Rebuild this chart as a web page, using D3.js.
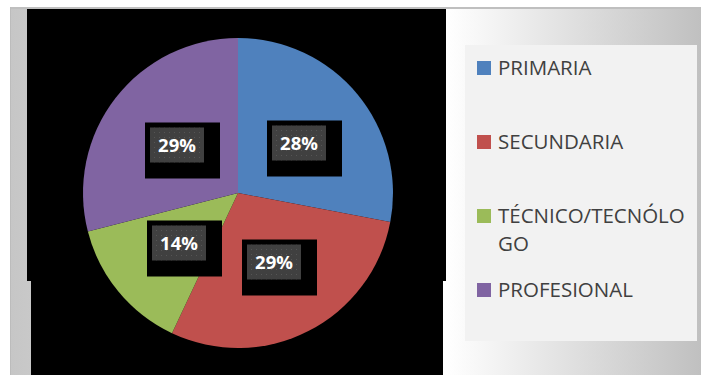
<!DOCTYPE html>
<html>
<head>
<meta charset="utf-8">
<script src="https://cdn.jsdelivr.net/npm/d3@7/dist/d3.min.js"></script>
<style>
  html, body { margin: 0; padding: 0; background: #ffffff; }
  svg { display: block; }
</style>
</head>
<body>
<script>
// Education level distribution
const categories = ["PRIMARIA", "SECUNDARIA", "TÉCNICO/TECNÓLOGO", "PROFESIONAL"];
const values = [28, 29, 14, 29];
const colors = ["#4f81bd", "#c0504d", "#9bbb59", "#8064a2"];

const W = 701, H = 375;
const svg = d3.select("body").append("svg").attr("width", W).attr("height", H);
const defs = svg.append("defs");

// chart area background: soft horizontal grey-white-grey gradient
const bg = defs.append("linearGradient").attr("id", "bgGrad")
  .attr("gradientUnits", "userSpaceOnUse")
  .attr("x1", 10).attr("x2", W).attr("y1", 0).attr("y2", 0);
bg.append("stop").attr("offset", 0).attr("stop-color", "#c6c6c6");
bg.append("stop").attr("offset", (446 - 10) / (W - 10)).attr("stop-color", "#ffffff");
bg.append("stop").attr("offset", 1).attr("stop-color", "#c0c0c0");

// dotted fill for the data label boxes
const pat = defs.append("pattern").attr("id", "dots")
  .attr("patternUnits", "userSpaceOnUse").attr("width", 5).attr("height", 5);
pat.append("rect").attr("width", 5).attr("height", 5).attr("fill", "#404040");
pat.append("rect").attr("x", 2).attr("y", 2).attr("width", 1).attr("height", 1).attr("fill", "#555555");

svg.append("rect").attr("x", 10).attr("y", 7).attr("width", W - 10).attr("height", H - 7)
  .attr("fill", "url(#bgGrad)");
svg.append("rect").attr("x", 10).attr("y", 7).attr("width", W - 10).attr("height", 2).attr("fill", "#bfbfbf");
svg.append("rect").attr("x", 10).attr("y", 7).attr("width", 1).attr("height", H - 7).attr("fill", "#bcbcbc");

// plot area (black)
svg.append("rect").attr("x", 27).attr("y", 9).attr("width", 446 - 27).attr("height", 281 - 9).attr("fill", "#000");
svg.append("rect").attr("x", 31).attr("y", 281).attr("width", 443 - 31).attr("height", H - 281).attr("fill", "#000");

// pie
const cx = 238, cy = 193, R = 155;
const total = d3.sum(values);
const pie = d3.pie().sort(null).value(d => d)(values);
const arc = d3.arc().innerRadius(0).outerRadius(R);
const labelArc = d3.arc().innerRadius(78).outerRadius(78);
const fmt = d3.format(".0%");

const g = svg.append("g").attr("transform", `translate(${cx},${cy})`);
g.selectAll("path.slice").data(pie).join("path")
  .attr("class", "slice")
  .attr("d", arc)
  .attr("fill", (d, i) => colors[i]);

// data labels: black frame + dotted dark box + white percentage
const lab = g.selectAll("g.lab").data(pie).join("g")
  .attr("class", "lab")
  .attr("transform", d => {
    const [x, y] = labelArc.centroid(d);
    return `translate(${Math.round(x) + 1},${Math.round(y)})`;
  });
const bw = 54, bh = 35;
lab.append("rect").attr("x", -bw / 2 - 5).attr("y", -bh / 2 - 5).attr("width", 75).attr("height", 56).attr("fill", "#000");
lab.append("rect").attr("x", -bw / 2).attr("y", -bh / 2).attr("width", bw).attr("height", bh).attr("fill", "url(#dots)");
lab.append("text")
  .attr("text-anchor", "middle")
  .attr("y", 7)
  .attr("fill", "#ffffff")
  .style("font-family", "'Open Sans', sans-serif")
  .style("font-weight", "700")
  .style("font-size", "18.5px")
  .text(d => fmt(d.data / total));

// legend
svg.append("rect").attr("x", 465).attr("y", 45).attr("width", 697 - 465).attr("height", 341 - 45).attr("fill", "#f2f2f2");
const legendFont = "20.5px 'Open Sans', sans-serif";
const ly = d3.scaleLinear().domain([0, categories.length - 1]).range([68, 290]);
const leg = svg.selectAll("g.leg").data(categories).join("g")
  .attr("class", "leg")
  .attr("transform", (d, i) => `translate(477,${Math.round(ly(i))})`);
leg.append("rect").attr("x", 0).attr("y", -7).attr("width", 14).attr("height", 14)
  .attr("fill", (d, i) => colors[i]);

const maxW = 196;
leg.each(function (name) {
  const t = d3.select(this).append("text")
    .attr("x", 21).attr("y", 7)
    .attr("fill", "#404040")
    .style("font", legendFont);
  // break long names character by character to fit the legend width
  const lines = [];
  let cur = "";
  const probe = t.append("tspan");
  for (const ch of name) {
    probe.text(cur + ch);
    if (cur && probe.node().getComputedTextLength() > maxW) {
      lines.push(cur);
      cur = ch;
    } else {
      cur += ch;
    }
  }
  lines.push(cur);
  probe.remove();
  lines.forEach((ln, k) => {
    t.append("tspan").attr("x", 21).attr("dy", k === 0 ? 0 : 28).text(ln);
  });
});
</script>
</body>
</html>
